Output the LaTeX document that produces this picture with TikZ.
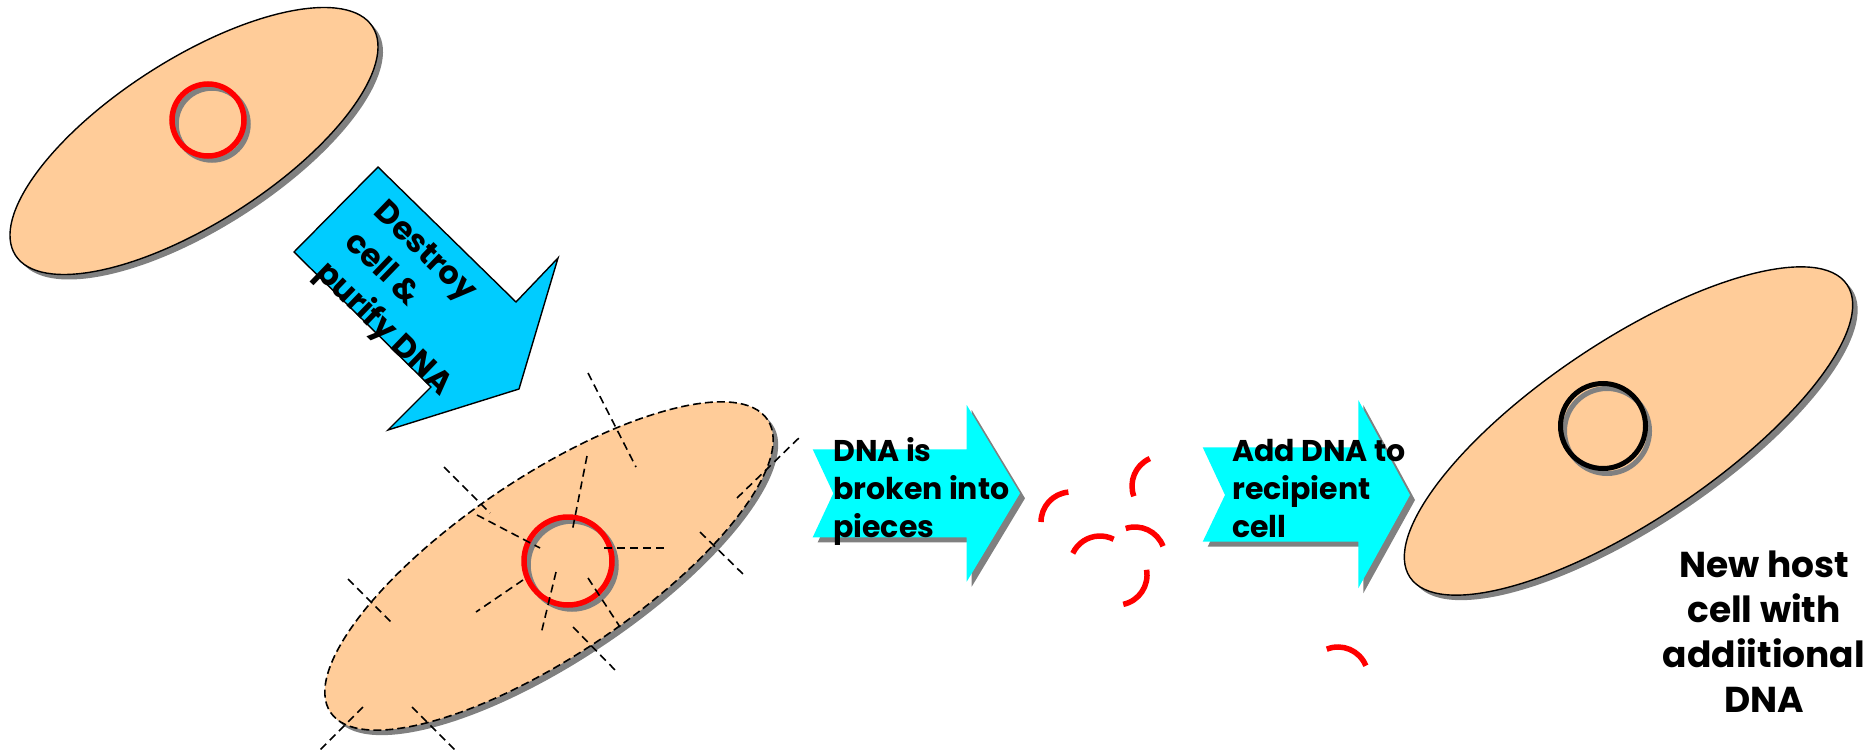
\documentclass[tikz,border=0pt]{standalone}
\usepackage{fontspec}
\setmainfont{Poppins}
\usetikzlibrary{shapes.geometric}
\definecolor{cellfill}{HTML}{FFCC99}
\definecolor{shadowgray}{HTML}{808080}
\definecolor{stepblue}{HTML}{00CCFF}
\definecolor{stepcyan}{HTML}{00FFFF}
\definecolor{dnared}{HTML}{FF0000}
\begin{document}
\begin{tikzpicture}[x=1pt,y=-1pt,
  cellbody/.style={ellipse, inner sep=0pt, outer sep=0pt, fill=cellfill, draw=black, line width=1.4pt},
  cellshade/.style={ellipse, inner sep=0pt, outer sep=0pt, fill=shadowgray, draw=none},
  smallcell/.style={minimum width=424pt, minimum height=164pt, rotate=32.6},
  bigcell/.style={minimum width=526pt, minimum height=179pt, rotate=33.8},
  ring/.style={circle, inner sep=0pt, outer sep=0pt, line width=5.5pt, draw=#1},
  breakline/.style={draw=black, line width=1.6pt, dash pattern=on 8pt off 5pt},
  fragment/.style={draw=dnared, line width=5.5pt},
  steptext/.style={inner sep=0pt, align=left, anchor=base west, font=\fontsize{30}{38}\selectfont\bfseries},
  labeltext/.style={inner sep=0pt, align=center, font=\fontsize{36}{44.7}\selectfont\bfseries}]
\useasboundingbox (0,0) rectangle (1873,754);

% ---- donor cell ----
\node[cellshade, smallcell] (donorshade) at (199,146) {};
\node[cellbody, smallcell] (donor) at (194,141) {};
\node[ring=shadowgray, minimum size=72pt] (donordnashade) at (212,124) {};
\node[ring=dnared, minimum size=72pt] (donordna) at (208,120) {};

% ---- destroy / purify arrow ----
\draw[fill=stepblue, draw=black, line width=1.4pt]
  (378,167) -- (294,252) -- (431,387) -- (388,430) -- (519,389) -- (558,258) -- (516,302) -- cycle;
\node[inner sep=0pt, align=left, rotate=-44, anchor=west, font=\fontsize{32}{42}\selectfont\bfseries]
  (destroy) at (348,239) {Destroy\\cell \&\\purify DNA};

% ---- broken cell ----
\node[cellshade, bigcell] (brokenshade) at (554,571) {};
\node[cellbody, bigcell, dash pattern=on 8pt off 4pt, line width=1.6pt] (broken) at (549,566) {};
\node[ring=shadowgray, minimum size=88pt] (brokendnashade) at (572,565) {};
\node[ring=dnared, minimum size=88pt] (brokendna) at (568,561) {};
\draw[breakline] (588,373) -- (636,467);
\draw[breakline] (444,467) -- (490,513);
\draw[breakline] (477,515) -- (540,548);
\draw[breakline] (587,456) -- (572,532);
\draw[breakline] (604,548) -- (668,548);
\draw[breakline] (700,532) -- (745,576);
\draw[breakline] (737,498) -- (802,435);
\draw[breakline] (523,580) -- (476,612);
\draw[breakline] (556,572) -- (541,634);
\draw[breakline] (588,578) -- (620,627);
\draw[breakline] (573,627) -- (617,672);
\draw[breakline] (348,579) -- (393,624);
\draw[breakline] (363,707) -- (318,752);
\draw[breakline] (412,707) -- (457,752);

% ---- step arrows ----
\fill[shadowgray] ([shift={(5,5)}]812.7,449.3) -- ++(154,0) -- ++(0,-44.3) -- ++(53.3,88.3) -- ++(-53.3,88.4) -- ++(0,-44.4) -- ++(-154,0) -- ++(20.6,-44) -- cycle;
\fill[stepcyan] (812.7,449.3) -- ++(154,0) -- ++(0,-44.3) -- ++(53.3,88.3) -- ++(-53.3,88.4) -- ++(0,-44.4) -- ++(-154,0) -- ++(20.6,-44) -- cycle;
\node[steptext] (brokentext) at (833,537) {DNA is\\broken into\\pieces};

\fill[shadowgray] ([shift={(5,5)}]1202.7,447.3) -- ++(155.6,0) -- ++(0,-47.3) -- ++(51.7,95) -- ++(-51.7,93.3) -- ++(0,-46.6) -- ++(-155.6,0) -- ++(22.3,-46.7) -- cycle;
\fill[stepcyan] (1202.7,447.3) -- ++(155.6,0) -- ++(0,-47.3) -- ++(51.7,95) -- ++(-51.7,93.3) -- ++(0,-46.6) -- ++(-155.6,0) -- ++(22.3,-46.7) -- cycle;
\node[steptext] (addtext) at (1232,537) {Add DNA to\\recipient\\cell};

% ---- DNA fragments ----
\draw[fragment] ([shift={(95:30pt)}]1071,522) arc[start angle=95, end angle=180, radius=30pt];
\draw[fragment] ([shift={(114:30pt)}]1162,486) arc[start angle=114, end angle=200, radius=30pt];
\draw[fragment] ([shift={(63:30pt)}]1100,566) arc[start angle=63, end angle=155, radius=30pt];
\draw[fragment] ([shift={(21:30pt)}]1135,557) arc[start angle=21, end angle=108, radius=30pt];
\draw[fragment] ([shift={(-78:30pt)}]1117,575) arc[start angle=-78, end angle=10, radius=30pt];
\draw[fragment] ([shift={(22:30pt)}]1338,677) arc[start angle=22, end angle=112, radius=30pt];

% ---- recipient cell ----
\node[cellshade, bigcell] (hostshade) at (1633.5,436) {};
\node[cellbody, bigcell] (host) at (1628.5,431) {};
\node[ring=shadowgray, minimum size=85pt, line width=5pt] (hostdnashade) at (1607,431) {};
\node[ring=black, minimum size=85pt, line width=5pt] (hostdna) at (1603,426) {};
\node[labeltext, anchor=base] (hostlabel) at (1764,712) {New host\\cell with\\addiitional\\DNA};
\end{tikzpicture}
\end{document}
